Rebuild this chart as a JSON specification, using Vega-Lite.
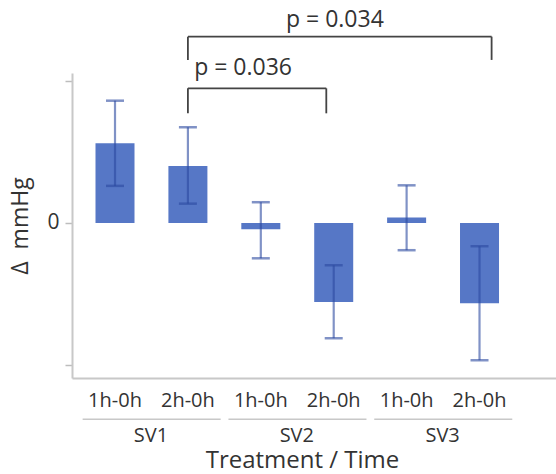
{
  "$schema": "https://vega.github.io/schema/vega-lite/v6.json",
  "width": 484,
  "height": 305,
  "autosize": {"type": "none"},
  "padding": {"left": 72, "top": 73, "right": 0, "bottom": 96},
  "config": {
    "font": "Open Sans",
    "view": {"stroke": null},
    "axis": {"grid": false, "labelColor": "#333333", "titleColor": "#333333", "titleFontWeight": "normal"}
  },
  "datasets": {
    "bars": [
      {"key": "SV1 1h-0h", "mean": 5.61, "lo": 2.61, "hi": 8.61},
      {"key": "SV1 2h-0h", "mean": 4.01, "lo": 1.36, "hi": 6.74},
      {"key": "SV2 1h-0h", "mean": -0.45, "lo": -2.49, "hi": 1.46},
      {"key": "SV2 2h-0h", "mean": -5.56, "lo": -8.12, "hi": -2.98},
      {"key": "SV3 1h-0h", "mean": 0.38, "lo": -1.92, "hi": 2.65},
      {"key": "SV3 2h-0h", "mean": -5.65, "lo": -9.67, "hi": -1.64}
    ],
    "groups": [
      {"group": "SV1", "start": "SV1 1h-0h", "end": "SV1 2h-0h"},
      {"group": "SV2", "start": "SV2 1h-0h", "end": "SV2 2h-0h"},
      {"group": "SV3", "start": "SV3 1h-0h", "end": "SV3 2h-0h"}
    ],
    "brackets": [
      {"id": "a", "from": "SV1 2h-0h", "to": "SV2 2h-0h", "top": 9.48, "foot": 7.72, "labelat": "SV1 2h-0h", "labely": 10.89, "p": "p = 0.036"},
      {"id": "b", "from": "SV1 2h-0h", "to": "SV3 2h-0h", "top": 13.12, "foot": 11.48, "labelat": "SV2 2h-0h", "labely": 14.29, "p": "p = 0.034"}
    ]
  },
  "resolve": {"axis": {"x": "independent"}},
  "layer": [
    {
      "data": {"name": "bars"},
      "mark": {"type": "bar", "color": "#5677C6"},
      "encoding": {
        "x": {
          "field": "key", "type": "nominal",
          "scale": {"domain": ["SV1 1h-0h", "SV1 2h-0h", "SV2 1h-0h", "SV2 2h-0h", "SV3 1h-0h", "SV3 2h-0h"], "paddingInner": 0.465, "paddingOuter": 0.552, "align": 0.292},
          "axis": {"orient": "bottom", "title": null, "labelAngle": 0, "ticks": false, "labelPadding": 12, "labelFontSize": 20, "labelOverlap": false,
                   "domainColor": "#c8c8c8", "domainWidth": 2,
                   "labelExpr": "split(datum.label, ' ')[1]"}
        },
        "y": {
          "field": "mean", "type": "quantitative",
          "scale": {"domain": [-10.92, 10.56], "nice": false},
          "axis": {"values": [-10, 0, 10], "labelExpr": "datum.value == 0 ? '0' : ''", "tickSize": 7, "tickColor": "#bdbdbd", "tickWidth": 1.5,
                   "domainColor": "#c8c8c8", "domainWidth": 2, "labelFontSize": 21, "labelPadding": 6,
                   "title": "Δ\u00a0\u00a0mmHg", "titleFontSize": 23, "titlePadding": 14}
        }
      }
    },
    {
      "data": {"name": "bars"},
      "mark": {"type": "rule", "color": "#2c4aa0", "opacity": 0.6, "strokeWidth": 2.2},
      "encoding": {
        "x": {"field": "key", "type": "nominal", "axis": null},
        "y": {"field": "lo", "type": "quantitative"},
        "y2": {"field": "hi"}
      }
    },
    {
      "data": {"name": "bars"},
      "mark": {"type": "tick", "color": "#2c4aa0", "opacity": 0.6, "thickness": 2.5},
      "encoding": {
        "x": {"field": "key", "type": "nominal", "axis": null},
        "y": {"field": "lo", "type": "quantitative"},
        "size": {"value": 18}
      }
    },
    {
      "data": {"name": "bars"},
      "mark": {"type": "tick", "color": "#2c4aa0", "opacity": 0.6, "thickness": 2.5},
      "encoding": {
        "x": {"field": "key", "type": "nominal", "axis": null},
        "y": {"field": "hi", "type": "quantitative"},
        "size": {"value": 18}
      }
    },
    {
      "data": {"name": "groups"},
      "mark": {"type": "rule", "color": "#c8c8c8", "strokeWidth": 1.5},
      "encoding": {
        "x": {
          "field": "start", "type": "nominal", "bandPosition": -0.33,
          "axis": {"orient": "bottom", "domain": false, "ticks": false, "labelAngle": 0, "labelOverlap": false,
                   "labelOffset": 36,
                   "labelExpr": "indexof(datum.label, '1h') >= 0 ? split(datum.label, ' ')[0] : ''",
                   "labelPadding": 47, "labelFontSize": 20,
                   "title": "Treatment / Time", "titleFontSize": 24, "titlePadding": 3, "titleX": 230, "titleAlign": "center"}
        },
        "x2": {"field": "end", "bandPosition": 1.34},
        "y": {"datum": -13.82, "type": "quantitative"}
      }
    },
    {
      "data": {"name": "brackets"},
      "mark": {"type": "rule", "color": "#444444", "strokeWidth": 1.8},
      "encoding": {
        "x": {"field": "from", "type": "nominal", "axis": null},
        "y": {"field": "top", "type": "quantitative"},
        "y2": {"field": "foot"}
      }
    },
    {
      "data": {"name": "brackets"},
      "transform": [{"filter": "datum.id == 'a'"}],
      "mark": {"type": "rule", "color": "#444444", "strokeWidth": 1.8},
      "encoding": {
        "x": {"field": "from", "type": "nominal", "axis": null},
        "x2": {"field": "to", "bandPosition": 0.31},
        "y": {"field": "top", "type": "quantitative"}
      }
    },
    {
      "data": {"name": "brackets"},
      "transform": [{"filter": "datum.id == 'a'"}],
      "mark": {"type": "rule", "color": "#444444", "strokeWidth": 1.8},
      "encoding": {
        "x": {"field": "to", "type": "nominal", "bandPosition": 0.31, "axis": null},
        "y": {"field": "top", "type": "quantitative"},
        "y2": {"field": "foot"}
      }
    },
    {
      "data": {"name": "brackets"},
      "transform": [{"filter": "datum.id == 'b'"}],
      "mark": {"type": "rule", "color": "#444444", "strokeWidth": 1.8},
      "encoding": {
        "x": {"field": "from", "type": "nominal", "axis": null},
        "x2": {"field": "to", "bandPosition": 0.81},
        "y": {"field": "top", "type": "quantitative"}
      }
    },
    {
      "data": {"name": "brackets"},
      "transform": [{"filter": "datum.id == 'b'"}],
      "mark": {"type": "rule", "color": "#444444", "strokeWidth": 1.8},
      "encoding": {
        "x": {"field": "to", "type": "nominal", "bandPosition": 0.81, "axis": null},
        "y": {"field": "top", "type": "quantitative"},
        "y2": {"field": "foot"}
      }
    },
    {
      "data": {"name": "brackets"},
      "transform": [{"filter": "datum.id == 'a'"}],
      "mark": {"type": "text", "align": "left", "baseline": "middle", "fontSize": 23, "color": "#333333"},
      "encoding": {
        "x": {"field": "labelat", "type": "nominal", "bandPosition": 0.66, "axis": null},
        "y": {"field": "labely", "type": "quantitative"},
        "text": {"field": "p"}
      }
    },
    {
      "data": {"name": "brackets"},
      "transform": [{"filter": "datum.id == 'b'"}],
      "mark": {"type": "text", "align": "center", "baseline": "middle", "fontSize": 23, "color": "#333333"},
      "encoding": {
        "x": {"field": "labelat", "type": "nominal", "bandPosition": 0.53, "axis": null},
        "y": {"field": "labely", "type": "quantitative"},
        "text": {"field": "p"}
      }
    }
  ]
}
